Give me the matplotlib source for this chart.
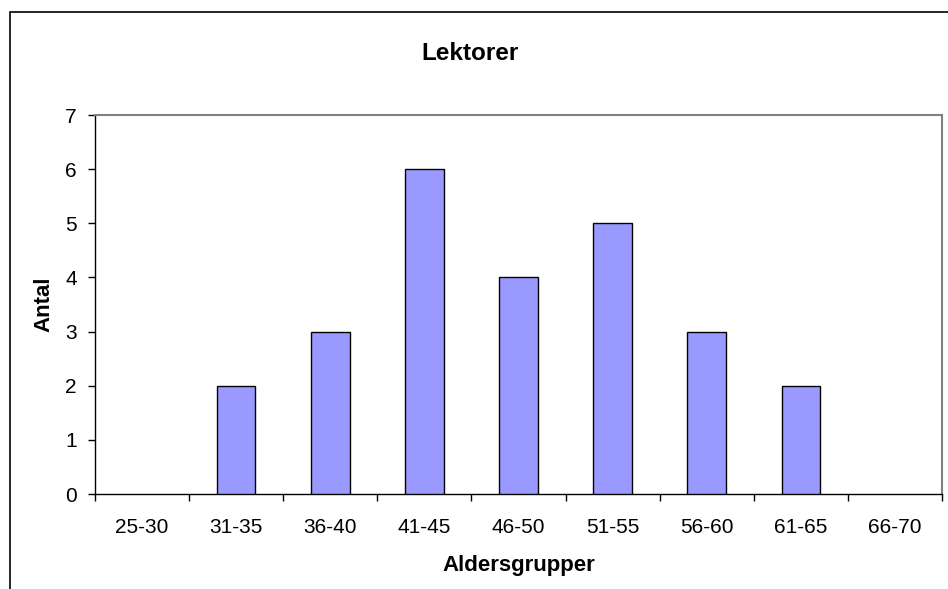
import matplotlib
matplotlib.use("Agg")
import matplotlib.pyplot as plt
from matplotlib.patches import Rectangle
import numpy as np

categories = ["25-30", "31-35", "36-40", "41-45", "46-50", "51-55", "56-60", "61-65", "66-70"]
values = [0, 2, 3, 6, 4, 5, 3, 2, 0]
yticks = [0, 1, 2, 3, 4, 5, 6, 7]

plt.rcParams['font.family'] = ['Liberation Sans', 'DejaVu Sans']

fig = plt.figure(figsize=(9.48, 5.89), dpi=100)
ax = fig.add_axes([95/948, 1-494/589, (942-95)/948, (494-115)/589])

x = np.arange(len(categories))
lw = [1.0 if v > 0 else 0.0 for v in values]
ax.bar(x, values, width=0.41, color="#9999FF", edgecolor="black", linewidth=lw, zorder=3)

ax.set_xlim(-0.5, len(categories)-0.5)
ax.set_ylim(0, 7)
ax.set_yticks(yticks)
ax.set_yticklabels([str(t) for t in yticks], fontsize=15)
ax.set_xticks(x)
ax.set_xticklabels(categories, fontsize=15)
ax.tick_params(axis='x', length=0, pad=17)
ax.set_xticks(np.arange(-0.5, len(categories), 1.0), minor=True)
ax.tick_params(axis='x', which='minor', length=5, direction='out', width=1)
ax.tick_params(axis='y', length=5, direction='out', width=1, pad=8)

for s in ['left', 'bottom']:
    ax.spines[s].set_color('black')
    ax.spines[s].set_linewidth(1)
for s in ['top', 'right']:
    ax.spines[s].set_color('#808080')
    ax.spines[s].set_linewidth(1.5)

ax.set_xlabel("Aldersgrupper", fontsize=16, fontweight='bold', labelpad=13)
ax.set_ylabel("Antal", fontsize=16, fontweight='bold', labelpad=8)
fig.text(470/948, 1-54/589, "Lektorer", ha='center', va='center', fontsize=17.5, fontweight='bold')

rect = Rectangle((10/948, -0.5), 2.0, 0.5 + (1-12/589), transform=fig.transFigure,
                 fill=False, edgecolor='black', linewidth=1.2)
fig.patches.append(rect)

fig.savefig("out.png", dpi=100)
